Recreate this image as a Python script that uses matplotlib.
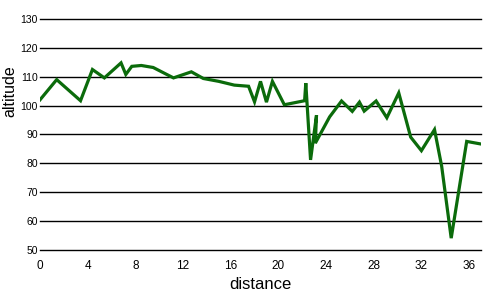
import matplotlib
matplotlib.use("Agg")
import matplotlib.pyplot as plt

# distance / altitude
distance = [0, 1.4, 3.4, 4.4, 5.4, 6.8, 7.2, 7.7, 8.5, 9.5, 10.3, 11.2, 12.7, 13.7,
            15.0, 16.3, 17.5, 18.0, 18.5, 19.0, 19.5, 20.5, 22.2, 22.3, 22.7, 23.2,
            23.1, 24.3, 25.3, 26.2, 26.8, 27.2, 28.2, 29.1, 30.1, 31.1, 32.0, 33.1,
            33.7, 34.5, 35.8, 37.0]
altitude = [102, 109, 101.7, 112.5, 109.6, 114.8, 110.8, 113.6, 113.9, 113.2, 111.5,
            109.6, 111.7, 109.4, 108.4, 107.1, 106.7, 101.3, 108.4, 101.2, 108.4, 100.3,
            101.7, 107.8, 81.2, 96.7, 87, 96.1, 101.6, 98.0, 101.2, 98.1, 101.6, 95.8,
            104.4, 89.1, 84.4, 91.7, 79, 54.1, 87.6, 86.7]
x_ticks = [0, 4, 8, 12, 16, 20, 24, 28, 32, 36]
y_ticks = [50, 60, 70, 80, 90, 100, 110, 120, 130]

plt.rcParams['font.family'] = ['Liberation Sans', 'DejaVu Sans']

fig = plt.figure(figsize=(5, 3), dpi=100)
ax = fig.add_axes([0.08, 0.1667, 0.882, 0.77])

# horizontal rules, not clipped so the top/bottom ones stay solid
for v in y_ticks:
    ax.axhline(v, color='black', linewidth=1.0, zorder=1, clip_on=False)

ax.plot(distance, altitude, color='#0b6b0b', linewidth=2.3, zorder=3,
        solid_joinstyle='miter')

ax.set_xlim(0, 37)
ax.set_ylim(50, 130)
ax.set_xticks(x_ticks)
ax.set_yticks(y_ticks)
ax.tick_params(axis='x', length=0, pad=7, labelsize=8.5)
ax.tick_params(axis='y', length=0, pad=1.5, labelsize=7.5)
for s in ax.spines.values():
    s.set_visible(False)

ax.set_xlabel('distance', fontsize=12, labelpad=4)
ax.set_ylabel('altitude', fontsize=11.5, va='center')
ax.yaxis.set_label_coords(-0.068, 0.686)

fig.savefig('out.png', dpi=100)
